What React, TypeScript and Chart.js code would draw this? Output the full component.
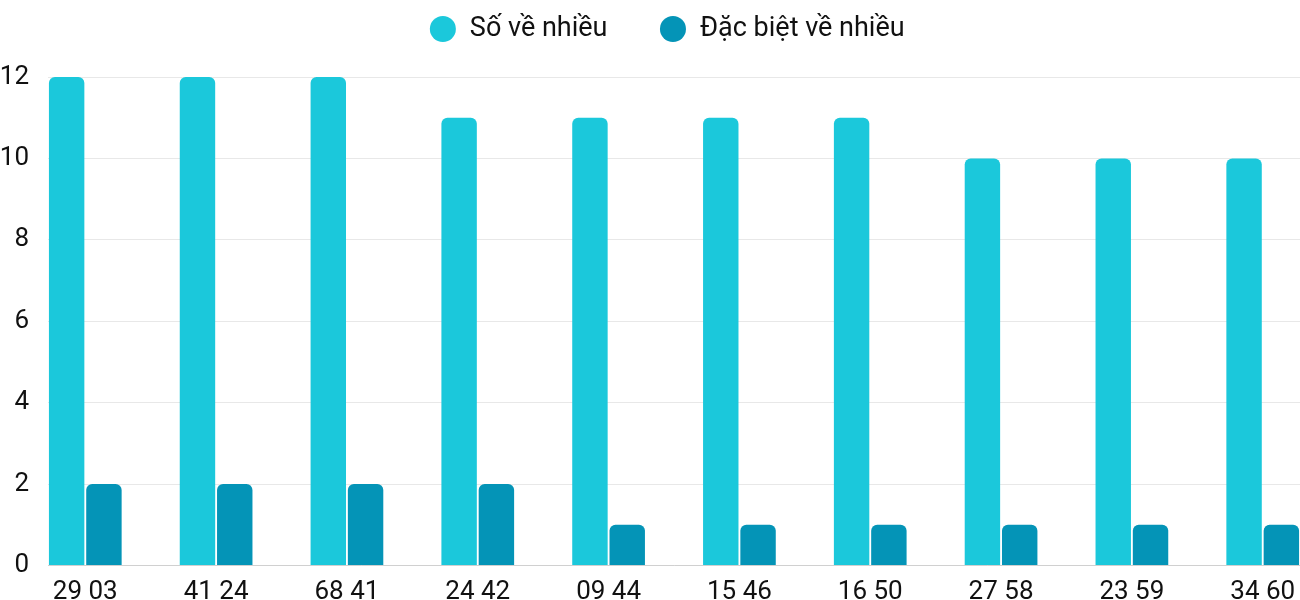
import React, { useEffect, useRef } from "react";
import { Chart, registerables } from "chart.js";

Chart.register(...registerables);

const categories = ["29 03", "41 24", "68 41", "24 42", "09 44", "15 46", "16 50", "27 58", "23 59", "34 60"];
const soVeNhieu = [12, 12, 12, 11, 11, 11, 11, 10, 10, 10];
const dacBietVeNhieu = [2, 2, 2, 2, 1, 1, 1, 1, 1, 1];
const yTicks = [0, 2, 4, 6, 8, 10, 12];

const CP = 0.57;
const LEGEND_PAD = 52;
const LEGEND_HEIGHT = 77;
const LEGEND_CENTER_Y = 29;
const LEGEND_SHIFT_X = 17;

const legendTweak = {
  id: "legendTweak",
  beforeInit(chart: any) {
    const lg = chart.legend;
    if (!lg) return;
    const origFit = lg.fit;
    lg.fit = function () {
      origFit.call(this);
      this.height = LEGEND_HEIGHT;
    };
  },
  beforeDraw(chart: any) {
    const lg = chart.legend;
    if (!lg) return;
    const itemH = 27;
    lg.top = LEGEND_CENTER_Y - itemH / 2 - LEGEND_PAD;
    lg.bottom = LEGEND_HEIGHT;
    lg.left = LEGEND_SHIFT_X;
    lg.right = chart.width + LEGEND_SHIFT_X;
  },
};

export default function App() {
  const ref = useRef<HTMLCanvasElement | null>(null);
  useEffect(() => {
    if (!ref.current) return;
    const font = { family: "Roboto", size: 26 };
    const chart = new Chart(ref.current, {
      type: "bar",
      data: {
        datasets: [
          {
            label: "Số về nhiều",
            data: soVeNhieu.map((v, i) => ({ x: i, y: v })),
            backgroundColor: "#1bc8db",
            borderRadius: { topLeft: 6, topRight: 6, bottomLeft: 0, bottomRight: 0 },
            borderSkipped: "bottom",
            categoryPercentage: CP,
            barPercentage: 0.95,
          },
          {
            label: "Đặc biệt về nhiều",
            data: dacBietVeNhieu.map((v, i) => ({ x: i, y: v })),
            backgroundColor: "#0494b7",
            borderRadius: { topLeft: 6, topRight: 6, bottomLeft: 0, bottomRight: 0 },
            borderSkipped: "bottom",
            categoryPercentage: CP,
            barPercentage: 0.95,
          },
        ],
      },
      plugins: [legendTweak],
      options: {
        animation: false,
        responsive: false,
        maintainAspectRatio: false,
        layout: { padding: { left: 0, right: 0, top: 0, bottom: 0 } },
        plugins: {
          legend: {
            position: "top",
            labels: {
              usePointStyle: true,
              pointStyle: "circle",
              boxWidth: 27,
              boxHeight: 18.4,
              padding: LEGEND_PAD,
              color: "#111",
              font: { family: "Roboto", size: 27 },
            },
          },
          tooltip: { enabled: false },
        },
        scales: {
          x: {
            type: "linear",
            offset: false,
            min: -CP / 2,
            max: categories.length - 1 + CP / 2,
            afterBuildTicks: (scale: any) => {
              scale.ticks = categories.map((_, i) => ({ value: i }));
            },
            afterFit: (scale: any) => {
              scale.height = 34;
            },
            grid: { display: false },
            border: { display: true, color: "#d0d0d0", width: 1 },
            ticks: {
              autoSkip: false,
              maxRotation: 0,
              minRotation: 0,
              padding: 3,
              color: "#111",
              font,
              callback: (v: any) => categories[v] ?? "",
            },
          },
          y: {
            min: 0,
            max: 12,
            afterBuildTicks: (scale: any) => {
              scale.ticks = yTicks.map((v) => ({ value: v }));
            },
            afterFit: (scale: any) => {
              scale.width = 48;
            },
            grid: { color: "#e8e8e8", drawTicks: false },
            border: { display: false },
            ticks: { padding: 19, color: "#111", font },
          },
        },
      },
    });
    return () => chart.destroy();
  }, []);
  return (
    <div style={{ position: "absolute", left: 0, top: 0, width: 1300, height: 600 }}>
      <canvas ref={ref} width={1300} height={600} style={{ width: 1300, height: 600 }} />
    </div>
  );
}
